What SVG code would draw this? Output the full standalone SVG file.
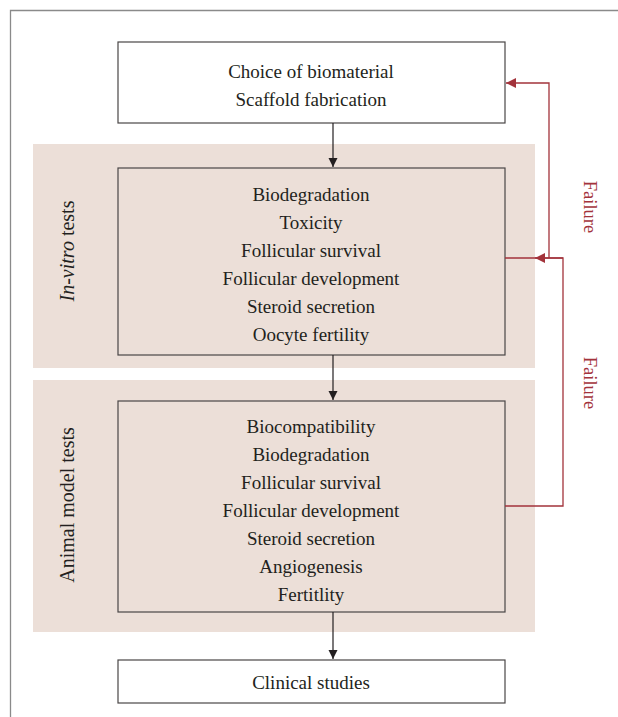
<svg xmlns="http://www.w3.org/2000/svg" width="618" height="717" viewBox="0 0 618 717">
<defs>
<style>
.t{font-family:"Liberation Serif","Times New Roman",serif;font-size:19px;fill:#231f20;text-anchor:middle}
.s{font-size:20px}
.box{fill:#fff;stroke:#4a4646;stroke-width:1.2}
.boxp{fill:#ecdfd8;stroke:#4a4646;stroke-width:1.2}
.band{fill:#ecdfd8}
.c{fill:none;stroke:#231f20;stroke-width:1.2}
.r{fill:none;stroke:#a3333b;stroke-width:1.3}
.rt{font-family:"Liberation Serif","Times New Roman",serif;font-size:18.5px;fill:#a3333b;text-anchor:middle}
</style>
<marker id="ab" viewBox="0 0 10 10" refX="10" refY="5" markerWidth="9" markerHeight="10" markerUnits="userSpaceOnUse" orient="auto"><path d="M0,0 L10,5 L0,10 Z" fill="#231f20"/></marker>
<marker id="ar" viewBox="0 0 10 10" refX="10" refY="5" markerWidth="14" markerHeight="10" markerUnits="userSpaceOnUse" orient="auto"><path d="M0,0 L10,5 L0,10 Z" fill="#a3333b"/></marker>
</defs>
<rect width="618" height="717" fill="#fff"/>
<path d="M10.5,717 V10.5 H618" fill="none" stroke="#8a8a8a" stroke-width="1.3"/>

<g id="band-invitro">
<rect class="band" x="33" y="144" width="502" height="224"/>
<text class="t s" transform="translate(74,251) rotate(-90)"><tspan font-style="italic">In-vitro</tspan> tests</text>
</g>
<g id="band-animal">
<rect class="band" x="33" y="380" width="502" height="252"/>
<text class="t s" transform="translate(74,505) rotate(-90)">Animal model tests</text>
</g>

<g id="node-biomaterial">
<rect class="box" x="118" y="42" width="387" height="81"/>
<text class="t" x="311" y="77.5">Choice of biomaterial</text>
<text class="t" x="311" y="105.5">Scaffold fabrication</text>
</g>

<g id="node-invitro">
<rect class="boxp" x="118" y="168" width="387" height="187"/>
<text class="t" x="311" y="200.5">Biodegradation</text>
<text class="t" x="311" y="228.5">Toxicity</text>
<text class="t" x="311" y="256.5">Follicular survival</text>
<text class="t" x="311" y="284.5">Follicular development</text>
<text class="t" x="311" y="312.5">Steroid secretion</text>
<text class="t" x="311" y="340.5">Oocyte fertility</text>
</g>

<g id="node-animal">
<rect class="boxp" x="118" y="401" width="387" height="211"/>
<text class="t" x="311" y="432.5">Biocompatibility</text>
<text class="t" x="311" y="460.5">Biodegradation</text>
<text class="t" x="311" y="488.5">Follicular survival</text>
<text class="t" x="311" y="516.5">Follicular development</text>
<text class="t" x="311" y="544.5">Steroid secretion</text>
<text class="t" x="311" y="572.5">Angiogenesis</text>
<text class="t" x="311" y="600.5">Fertitlity</text>
</g>

<g id="node-clinical">
<rect class="box" x="118" y="660" width="387" height="43"/>
<text class="t" x="311" y="689">Clinical studies</text>
</g>

<g id="connectors">
<line class="c" x1="333" y1="123" x2="333" y2="167" marker-end="url(#ab)"/>
<line class="c" x1="333" y1="355" x2="333" y2="400" marker-end="url(#ab)"/>
<line class="c" x1="333" y1="612" x2="333" y2="659" marker-end="url(#ab)"/>
<path class="r" d="M505,506 H563 V258 H505"/>
<line class="r" x1="563" y1="258" x2="535" y2="258" marker-end="url(#ar)"/>
<path class="r" d="M549,258 V83 H506" marker-end="url(#ar)"/>
<text class="rt" transform="translate(584,207) rotate(90)">Failure</text>
<text class="rt" transform="translate(584,383) rotate(90)">Failure</text>
</g>
</svg>
